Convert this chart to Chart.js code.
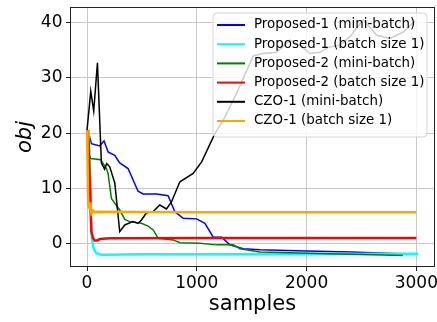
<!DOCTYPE html>
<html>
<head>
<meta charset="utf-8">
<script src="https://cdn.jsdelivr.net/npm/chart.js@4.4.0/dist/chart.umd.min.js"></script>
<style>
html, body { margin: 0; padding: 0; background: #fff; }
</style>
</head>
<body>
<canvas id="chart" width="437" height="322"></canvas>
<script>
// values
const seriesLabels = [
    'Proposed-1 (mini-batch)',
    'Proposed-1 (batch size 1)',
    'Proposed-2 (mini-batch)',
    'Proposed-2 (batch size 1)',
    'CZO-1 (mini-batch)',
    'CZO-1 (batch size 1)'
];

const xTicks = [0, 1000, 2000, 3000];
const yTicks = [0, 10, 20, 30, 40];

const p1MiniX = [9, 40, 116, 155, 192, 253, 298, 374, 465, 511, 633, 739, 800, 876, 998, 1074, 1150, 1226, 1302, 1423, 1576, 2000, 2400, 2733, 2850];
const p1MiniY = [20.4, 18.1, 17.7, 18.6, 16.6, 16.0, 14.6, 13.6, 9.5, 9.0, 9.0, 8.7, 5.8, 4.6, 4.5, 3.7, 1.2, 1.2, -0.2, -0.9, -1.1, -1.3, -1.5, -1.7, -1.8];

const p1SingleX = [15, 22, 28, 34, 40, 55, 70, 86, 130, 177, 500, 1000, 2000, 3016];
const p1SingleY = [20.6, 16, 10, 5, 2.0, -0.5, -1.3, -1.7, -2.0, -2.0, -1.9, -1.9, -1.85, -1.8];

const p2MiniX = [0, 20, 34, 125, 177, 192, 222, 298, 344, 390, 496, 557, 603, 648, 785, 846, 1028, 1180, 1332, 1393, 1576, 1758, 2200, 2600, 2878];
const p2MiniY = [20.5, 16.0, 15.4, 15.2, 13.6, 12.7, 8.2, 6.1, 4.4, 4.0, 3.7, 3.2, 2.5, 1.0, 0.7, 0.2, 0.1, -0.2, -0.2, -0.9, -1.5, -1.6, -1.8, -2.0, -2.1];

const p2SingleX = [5, 15, 25, 34, 40, 55, 70, 95, 116, 207, 1000, 2000, 3000];
const p2SingleY = [20.5, 18, 11.2, 6, 2.2, 1.0, 0.6, 0.6, 0.85, 1.0, 1.05, 1.05, 1.05];

const czoMiniX = [0, 34, 61, 95, 131, 160, 180, 207, 253, 298, 344, 417, 465, 496, 542, 600, 663, 724, 770, 846, 967, 1044, 1165, 1241, 1363, 1515, 1606, 1728, 1849, 1940, 2032, 2123, 2196, 2306, 2400, 2516, 2640, 2762, 2882, 2990];
const czoMiniY = [20.5, 27.6, 24.0, 32.7, 14.6, 13.5, 14.5, 13.9, 11.0, 2.2, 3.4, 4.0, 3.7, 4.3, 5.6, 5.8, 7.0, 6.3, 7.6, 11.2, 12.7, 14.8, 19.9, 22.3, 27.2, 34.0, 34.4, 34.6, 36.8, 35.9, 34.4, 34.6, 35.5, 35.9, 37.5, 40.5, 37.7, 37.1, 38.3, 40.3];

const czoSingleX = [0, 5, 10, 20, 25, 30, 40, 55, 70, 100, 1000, 2000, 3000];
const czoSingleY = [20.5, 15, 7, 6.5, 6.4, 7.5, 5.5, 6.0, 5.7, 5.8, 5.7, 5.7, 5.7];

const seriesX = [p1MiniX, p1SingleX, p2MiniX, p2SingleX, czoMiniX, czoSingleX];
const seriesY = [p1MiniY, p1SingleY, p2MiniY, p2SingleY, czoMiniY, czoSingleY];

const colors = ['#0000ff', '#00ffff', '#008000', '#ff0000', '#000000', '#ffa500'];
const widths = [1.5, 2.5, 1.5, 2.5, 1.5, 2.5];
const FONT = 'DejaVu Sans';

function toPoints(xs, ys) {
    return xs.map((x, i) => ({ x: x, y: ys[i] }));
}

// black frame + legend box inside the axes (matplotlib style)
const frameAndLegend = {
    id: 'frameAndLegend',
    afterDatasetsDraw(chart) {
        const ctx = chart.ctx;
        const a = chart.chartArea;
        ctx.save();
        ctx.strokeStyle = '#222';
        ctx.lineWidth = 1;
        ctx.strokeRect(a.left + 0.5, a.top + 0.5, a.right - a.left - 1, a.bottom - a.top - 1);

        const bw = 214, bh = 124;
        const bx = a.right - 8 - bw, by = a.top + 6;
        const r = 4;
        ctx.beginPath();
        ctx.moveTo(bx + r, by);
        ctx.lineTo(bx + bw - r, by);
        ctx.quadraticCurveTo(bx + bw, by, bx + bw, by + r);
        ctx.lineTo(bx + bw, by + bh - r);
        ctx.quadraticCurveTo(bx + bw, by + bh, bx + bw - r, by + bh);
        ctx.lineTo(bx + r, by + bh);
        ctx.quadraticCurveTo(bx, by + bh, bx, by + bh - r);
        ctx.lineTo(bx, by + r);
        ctx.quadraticCurveTo(bx, by, bx + r, by);
        ctx.closePath();
        ctx.fillStyle = 'rgba(255,255,255,0.8)';
        ctx.fill();
        ctx.strokeStyle = '#d6d6d6';
        ctx.stroke();

        ctx.font = '13.4px "' + FONT + '"';
        ctx.textBaseline = 'middle';
        ctx.textAlign = 'left';
        chart.data.datasets.forEach((ds, i) => {
            const y = by + 12 + i * 19.2;
            ctx.strokeStyle = ds.borderColor;
            ctx.lineWidth = 2;
            ctx.beginPath();
            ctx.moveTo(bx + 4, y);
            ctx.lineTo(bx + 32, y);
            ctx.stroke();
            ctx.fillStyle = '#000';
            ctx.fillText(ds.label, bx + 41, y);
        });
        ctx.restore();
    }
};

const gridStyle = {
    color: '#c8c8c8',
    lineWidth: 1,
    tickColor: '#222',
    tickLength: 4,
    drawTicks: true
};

new Chart(document.getElementById('chart'), {
    type: 'line',
    data: {
        datasets: seriesLabels.map((label, i) => ({
            label: label,
            data: toPoints(seriesX[i], seriesY[i]),
            borderColor: colors[i],
            backgroundColor: colors[i],
            borderWidth: widths[i],
            pointRadius: 0,
            tension: 0,
            fill: false,
            order: seriesLabels.length - i
        }))
    },
    options: {
        responsive: false,
        animation: false,
        devicePixelRatio: 1,
        layout: { padding: { top: 7, right: 2, left: 0, bottom: 0 } },
        plugins: {
            legend: { display: false },
            tooltip: { enabled: false }
        },
        scales: {
            x: {
                type: 'linear',
                min: -155,
                max: 3170,
                afterBuildTicks: s => { s.ticks = xTicks.map(v => ({ value: v })); },
                afterFit: s => { s.height = 55; s.paddingLeft = 0; s.paddingRight = 0; s.paddingTop = 0; s.paddingBottom = 0; },
                grid: gridStyle,
                border: { display: false },
                ticks: {
                    autoSkip: false,
                    maxRotation: 0,
                    padding: 2,
                    color: '#000',
                    font: { family: FONT, size: 17 },
                    callback: v => String(v)
                },
                title: {
                    display: true,
                    text: 'samples',
                    color: '#000',
                    font: { family: FONT, size: 21 },
                    padding: { top: 0, bottom: 5 }
                }
            },
            y: {
                min: -4.2,
                max: 42.8,
                afterBuildTicks: s => { s.ticks = yTicks.map(v => ({ value: v })); },
                afterFit: s => { s.width = 70; s.paddingTop = 0; s.paddingBottom = 0; s.paddingLeft = 0; s.paddingRight = 0; },
                grid: gridStyle,
                border: { display: false },
                ticks: {
                    autoSkip: false,
                    padding: 3.5,
                    color: '#000',
                    font: { family: FONT, size: 17 },
                    callback: v => String(v)
                },
                title: {
                    display: true,
                    text: 'obj',
                    color: '#000',
                    font: { family: FONT, size: 21, style: 'italic' },
                    padding: { top: 13, bottom: 0 }
                }
            }
        }
    },
    plugins: [frameAndLegend]
});
</script>
</body>
</html>
